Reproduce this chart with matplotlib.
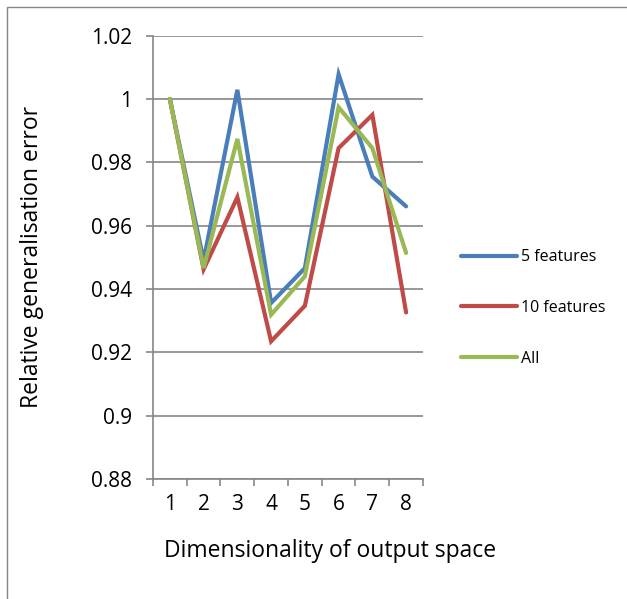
import matplotlib
matplotlib.use('Agg')
import matplotlib.pyplot as plt
from matplotlib.patches import Rectangle

# data
dims = [1, 2, 3, 4, 5, 6, 7, 8]
five_features = [1.000, 0.949, 1.0029, 0.9356, 0.9466, 1.0078, 0.9755, 0.9661]
ten_features = [1.000, 0.9462, 0.969, 0.9235, 0.9347, 0.9845, 0.995, 0.9326]
all_features = [1.000, 0.9466, 0.9874, 0.9319, 0.944, 0.9974, 0.9845, 0.9514]
y_ticks = [0.88, 0.90, 0.92, 0.94, 0.96, 0.98, 1.00, 1.02]
y_tick_labels = ['0.88', '0.9', '0.92', '0.94', '0.96', '0.98', '1', '1.02']

plt.rcParams['font.family'] = ['Open Sans', 'DejaVu Sans']
grey = '#868686'

fig = plt.figure(figsize=(6.27, 5.99), dpi=100)
ax = fig.add_axes([0.244, 0.2003, 0.4306, 0.7401])

ax.plot(dims, five_features, color='#4A7EBB', lw=3, label='5 features', solid_capstyle='round', solid_joinstyle='miter')
ax.plot(dims, ten_features, color='#BE4B48', lw=3, label='10 features', solid_capstyle='round', solid_joinstyle='miter')
ax.plot(dims, all_features, color='#98B954', lw=3, label='All', solid_capstyle='round', solid_joinstyle='miter')

ax.set_xlim(0.5, 8.5)
ax.set_ylim(0.88, 1.02)
ax.set_yticks(y_ticks)
ax.set_yticklabels(y_tick_labels, fontsize=15)
ax.yaxis.grid(True, color=grey, lw=1.2)
ax.set_axisbelow(True)

# ticks at category boundaries, labels at centres
ax.set_xticks([d - 0.5 for d in dims] + [8.5])
ax.set_xticklabels([])
ax.set_xticks(dims, minor=True)
ax.set_xticklabels([str(d) for d in dims], minor=True, fontsize=15)
ax.tick_params(axis='x', which='major', direction='out', length=5, color=grey, width=1.2)
ax.tick_params(axis='x', which='minor', length=0, pad=11)
ax.tick_params(axis='y', direction='out', length=5, color=grey, width=1.2, pad=10)

for side in ['top', 'right']:
    ax.spines[side].set_visible(False)
for side in ['left', 'bottom']:
    ax.spines[side].set_color(grey)
    ax.spines[side].set_linewidth(1.2)

ax.set_xlabel('Dimensionality of output space', fontsize=16.5)
ax.set_ylabel('Relative generalisation error', fontsize=16.5)
ax.xaxis.set_label_coords(0.656, -0.135)
ax.yaxis.set_label_coords(-0.405, 0.5)

fig.legend(loc='center left', bbox_to_anchor=(0.713, 0.486), frameon=False,
           fontsize=11.5, handlelength=3.5, labelspacing=2.17, handletextpad=0.2)

fig.patches.append(Rectangle((0.011, -0.01), 1.0, 0.999, transform=fig.transFigure,
                             fill=False, edgecolor=grey, lw=1))

fig.savefig('out.png', dpi=100)
plt.close(fig)
